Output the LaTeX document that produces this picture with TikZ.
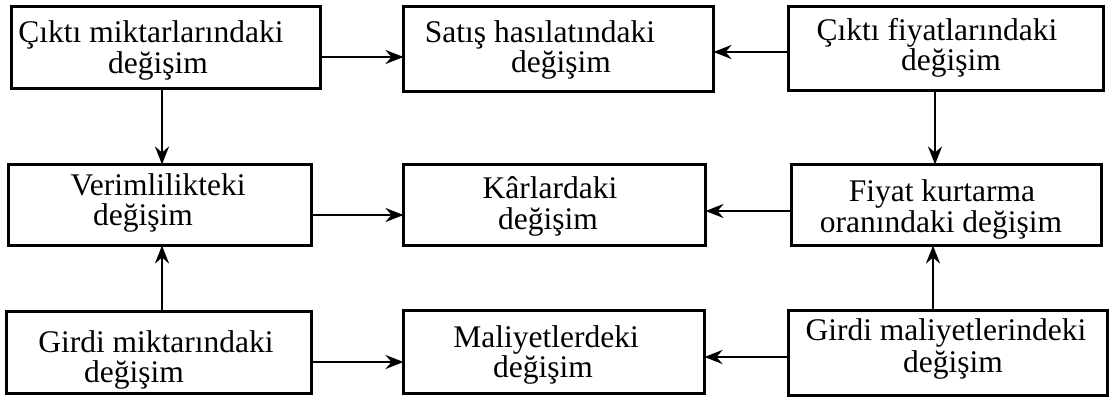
\documentclass[tikz,border=0pt]{standalone}
\usepackage{fontspec}
\setmainfont{Liberation Serif}
\usetikzlibrary{arrows.meta}
\begin{document}
\begin{tikzpicture}[x=1pt,y=-1pt,
  box/.style={draw, line width=3pt, inner sep=0pt, outer sep=0pt},
  lbl/.style={anchor=base, inner sep=0pt, font=\fontsize{31.5}{33}\selectfont},
  arr/.style={line width=2.6pt, -{Stealth[length=18pt,width=14pt,inset=6pt]}}]
\useasboundingbox (0,0) rectangle (1111,399);

% boxes
\node[box, minimum width=309pt, minimum height=82pt] (b1) at (166,47.5) {};
\node[box, minimum width=310pt, minimum height=85pt] (b2) at (558.5,49) {};
\node[box, minimum width=315pt, minimum height=84pt] (b3) at (946,48.5) {};
\node[box, minimum width=303pt, minimum height=81pt] (b4) at (160,205) {};
\node[box, minimum width=302pt, minimum height=81pt] (b5) at (554.5,205) {};
\node[box, minimum width=310pt, minimum height=81pt] (b6) at (946.5,205) {};
\node[box, minimum width=305pt, minimum height=82pt] (b7) at (159,352.5) {};
\node[box, minimum width=301pt, minimum height=83pt] (b8) at (554,352) {};
\node[box, minimum width=319pt, minimum height=85pt] (b9) at (948,353) {};

% labels
\node[lbl] (t1a) at (151,42) {Çıktı miktarlarındaki};
\node[lbl] (t1b) at (158,73) {değişim};
\node[lbl] (t2a) at (540,42) {Satış hasılatındaki};
\node[lbl] (t2b) at (561,72) {değişim};
\node[lbl] (t3a) at (937,40) {Çıktı fiyatlarındaki};
\node[lbl] (t3b) at (951,70) {değişim};
\node[lbl] (t4a) at (158,195) {Verimlilikteki};
\node[lbl] (t4b) at (143,225) {değişim};
\node[lbl] (t5a) at (550,198) {Kârlardaki};
\node[lbl] (t5b) at (548,229) {değişim};
\node[lbl] (t6a) at (942,201) {Fiyat kurtarma};
\node[lbl] (t6b) at (941,232) {oranındaki değişim};
\node[lbl] (t7a) at (156,352) {Girdi miktarındaki};
\node[lbl] (t7b) at (134,382) {değişim};
\node[lbl] (t8a) at (546,347) {Maliyetlerdeki};
\node[lbl] (t8b) at (543,377) {değişim};
\node[lbl] (t9a) at (946,340) {Girdi maliyetlerindeki};
\node[lbl] (t9b) at (953,372) {değişim};

% connectors
\draw[arr] ([yshift=-9.5pt]b1.east) -- ([yshift=-9.5pt]b1.east -| b2.west);
\draw[arr] ([yshift=-3.5pt]b3.west) -- ([yshift=-3.5pt]b3.west -| b2.east);
\draw[arr] ([xshift=-4pt]b1.south) -- ([xshift=-4pt]b1.south |- b4.north);
\draw[arr] ([xshift=-11pt]b3.south) -- ([xshift=-11pt]b3.south |- b6.north);
\draw[arr] ([yshift=-10pt]b4.east) -- ([yshift=-10pt]b4.east -| b5.west);
\draw[arr] ([yshift=-6pt]b6.west) -- ([yshift=-6pt]b6.west -| b5.east);
\draw[arr] ([xshift=3pt]b7.north) -- ([xshift=3pt]b7.north |- b4.south);
\draw[arr] ([xshift=-15pt]b9.north) -- ([xshift=-15pt]b9.north |- b6.south);
\draw[arr] ([yshift=-9.5pt]b7.east) -- ([yshift=-9.5pt]b7.east -| b8.west);
\draw[arr] ([yshift=-4pt]b9.west) -- ([yshift=-4pt]b9.west -| b8.east);
\end{tikzpicture}
\end{document}
